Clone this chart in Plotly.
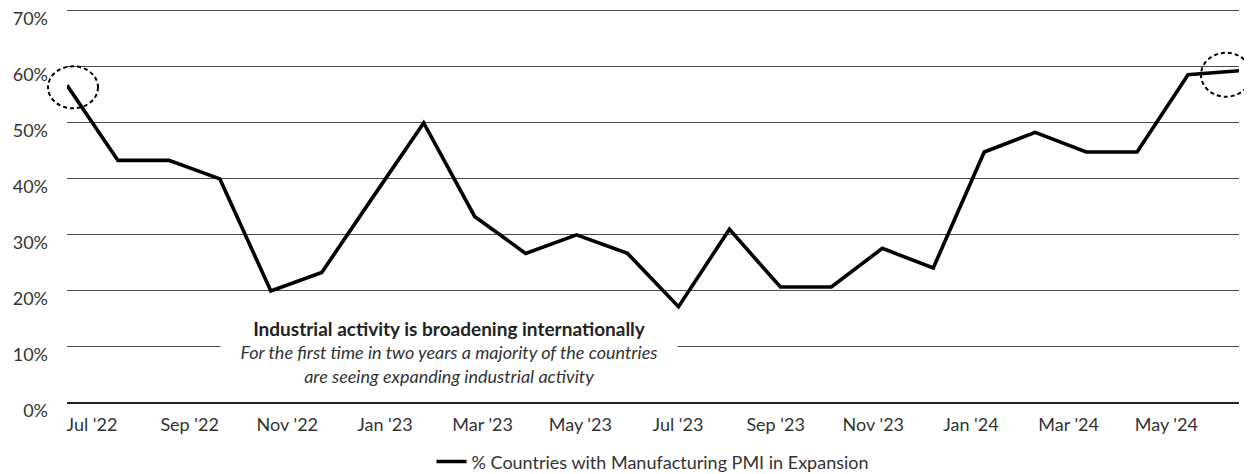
import plotly.graph_objects as go

months = ["Jul '22", "Aug '22", "Sep '22", "Oct '22", "Nov '22", "Dec '22",
          "Jan '23", "Feb '23", "Mar '23", "Apr '23", "May '23", "Jun '23",
          "Jul '23", "Aug '23", "Sep '23", "Oct '23", "Nov '23", "Dec '23",
          "Jan '24", "Feb '24", "Mar '24", "Apr '24", "May '24", "Jun '24"]
pct_expansion = [56.7, 43.3, 43.3, 40.0, 20.0, 23.3, 36.7, 50.0, 33.3, 26.7, 30.0, 26.7,
                 17.2, 31.0, 20.7, 20.7, 27.6, 24.1, 44.8, 48.3, 44.8, 44.8, 58.6, 59.3]
tick_labels = ["Jul '22", "Sep '22", "Nov '22", "Jan '23", "Mar '23", "May '23",
               "Jul '23", "Sep '23", "Nov '23", "Jan '24", "Mar '24", "May '24"]
series_name = "% Countries with Manufacturing PMI in Expansion"
highlight_idx = [0, len(months) - 1]

FONT = "Lato"
x_idx = list(range(len(months)))
n = len(months) - 1
YTOP = 70.5
# labels spread evenly across the axis (as in the source chart)
step = n / len(tick_labels)
tickvals = [0.49 + k * step for k in range(len(tick_labels))]

fig = go.Figure()
fig.add_trace(go.Scatter(
    x=x_idx, y=pct_expansion, mode="lines", name=series_name,
    line=dict(color="black", width=3.6), customdata=months,
    hovertemplate="%{customdata}: %{y:.1f}%<extra></extra>"))

circle_offsets = [(-19, 31, -23, 19), (-38, 12, -26, 18)]
for i, (x0, x1, y0, y1) in zip(highlight_idx, circle_offsets):
    fig.add_shape(type="circle", xref="paper", yref="paper",
                  xsizemode="pixel", ysizemode="pixel",
                  xanchor=x_idx[i] / n, yanchor=pct_expansion[i] / YTOP,
                  x0=x0, x1=x1, y0=y0, y1=y1,
                  line=dict(color="black", width=2, dash="4px,3px"))

fig.add_annotation(
    xref="paper", yref="paper", x=0.326, y=0.13, xanchor="center", yanchor="middle",
    showarrow=False, align="center", bgcolor="white", width=454,
    text=("<b><span style='color:#222;font-size:19px'>Industrial activity is broadening internationally</span></b><br>"
          "<i>For the first time in two years a majority of the countries<br>"
          "are seeing expanding industrial activity</i>"),
    font=dict(family=FONT, size=18, color="#333"))

fig.update_layout(
    width=1244, height=466,
    margin=dict(l=59, r=13, t=0, b=71, autoexpand=False),
    paper_bgcolor="white", plot_bgcolor="white",
    font=dict(family=FONT, size=18, color="#333"),
    showlegend=True,
    legend=dict(orientation="h", x=0.5, xanchor="center", y=-0.149, yanchor="middle",
                font=dict(size=18, color="#333")),
    xaxis=dict(range=[0, n], tickvals=tickvals, ticktext=tick_labels,
               showgrid=False, zeroline=False, showline=False, ticks="",
               ticklabelstandoff=9, automargin=False, fixedrange=True),
    yaxis=dict(range=[0, YTOP], dtick=10, ticksuffix="%", showgrid=True,
               gridcolor="#4a4a4a", gridwidth=1, zeroline=True, zerolinecolor="#222",
               zerolinewidth=1.5, showline=False, ticks="", ticklabelstandoff=18,
               ticklabelshift=8, ticklabeloverflow="allow",
               automargin=False, fixedrange=True),
)

fig.write_html("out.html")
